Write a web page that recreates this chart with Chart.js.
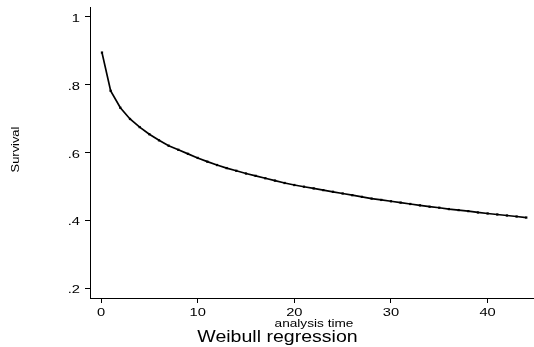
<!DOCTYPE html>
<html>
<head>
<meta charset="utf-8">
<script src="https://cdn.jsdelivr.net/npm/chart.js@4"></script>
<style>
  html, body { margin: 0; padding: 0; background: #fff; }
  canvas { display: block; }
</style>
</head>
<body>
<canvas id="chart" width="534" height="347"></canvas>
<script>
// analysis time of each plotted point
const times = [0.1, 1, 2, 3, 4, 5, 6, 7, 8, 9, 10, 11, 12, 13, 14, 15, 16, 17, 18, 19, 20,
  21, 22, 23, 24, 25, 26, 27, 28, 29, 30, 31, 32, 33, 34, 35, 36, 37, 38, 39, 40, 41, 42, 43, 44];
// estimated survival
const survival = [0.895, 0.782, 0.732, 0.699, 0.675, 0.654, 0.636, 0.620, 0.608, 0.596, 0.584,
  0.573, 0.563, 0.554, 0.546, 0.538, 0.531, 0.524, 0.517, 0.510, 0.504,
  0.499, 0.494, 0.489, 0.484, 0.479, 0.474, 0.469, 0.464, 0.460, 0.456,
  0.452, 0.448, 0.444, 0.440, 0.437, 0.433, 0.430, 0.427, 0.423, 0.420,
  0.417, 0.414, 0.411, 0.408];
const xTicks = [0, 10, 20, 30, 40];
const xTickLabels = ['0', '10', '20', '30', '40'];
const yTicks = [0.2, 0.4, 0.6, 0.8, 1];
const yTickLabels = ['.2', '.4', '.6', '.8', '1'];

const FONT = '"Liberation Sans", Arial, sans-serif';

// Stata stretches its text sideways, so draw it scaled in x
function wideText(ctx, text, x, y, size, stretch, align) {
    ctx.save();
    ctx.font = `${size}px ${FONT}`;
    ctx.textAlign = align;
    ctx.textBaseline = 'alphabetic';
    ctx.translate(x, y);
    ctx.scale(stretch, 1);
    ctx.fillText(text, 0, 0);
    ctx.restore();
}

const textPlugin = {
    id: 'stataText',
    afterDraw(chart) {
        const { ctx, chartArea } = chart;
        const xs = chart.scales.x, ys = chart.scales.y;
        ctx.save();
        ctx.fillStyle = '#000';

        // tick labels
        xTicks.forEach((v, i) => {
            wideText(ctx, xTickLabels[i], xs.getPixelForValue(v), chartArea.bottom + 18, 10.5, 1.4, 'center');
        });
        yTicks.forEach((v, i) => {
            wideText(ctx, yTickLabels[i], chartArea.left - 10, ys.getPixelForValue(v) + 5, 10.5, 1.4, 'right');
        });

        // y title, rotated
        ctx.save();
        ctx.translate(18.5, (chartArea.top + chartArea.bottom) / 2 - 3);
        ctx.rotate(-Math.PI / 2);
        wideText(ctx, 'Survival', 0, 0, 11, 1.17, 'center');
        ctx.restore();

        wideText(ctx, 'analysis time', (chartArea.left + chartArea.right) / 2 + 2, 327, 11, 1.24, 'center');
        wideText(ctx, 'Weibull regression', 277.5, 342, 16.3, 1.2, 'center');
        ctx.restore();
    }
};

const ctx = document.getElementById('chart');
new Chart(ctx, {
    type: 'line',
    data: {
        datasets: [{
            data: times.map((t, i) => ({ x: t, y: survival[i] })),
            borderColor: '#000',
            borderWidth: 1.7,
            backgroundColor: '#000',
            pointRadius: 1.6,
            pointBorderWidth: 0,
            pointStyle: 'rect',
            tension: 0,
            fill: false,
            clip: false
        }]
    },
    options: {
        responsive: false,
        animation: false,
        layout: { autoPadding: false, padding: { top: 7, left: 0, right: 0, bottom: 0 } },
        plugins: {
            legend: { display: false },
            tooltip: { enabled: false }
        },
        scales: {
            x: {
                type: 'linear',
                min: -1.14,
                max: 44.8,
                afterBuildTicks: scale => { scale.ticks = xTicks.map(v => ({ value: v })); },
                afterFit: scale => { scale.height = 49; scale.paddingLeft = 0; scale.paddingRight = 0; },
                border: { display: true, color: '#000', width: 1 },
                grid: { drawOnChartArea: false, drawTicks: true, tickLength: 5, color: '#000' },
                ticks: { display: false }
            },
            y: {
                type: 'linear',
                min: 0.1705,
                max: 1.0295,
                afterBuildTicks: scale => { scale.ticks = yTicks.map(v => ({ value: v })); },
                afterFit: scale => { scale.width = 90; scale.paddingTop = 0; scale.paddingBottom = 0; },
                border: { display: true, color: '#000', width: 1 },
                grid: { drawOnChartArea: false, drawTicks: true, tickLength: 5, color: '#000' },
                ticks: { display: false }
            }
        }
    },
    plugins: [textPlugin]
});
</script>
</body>
</html>
